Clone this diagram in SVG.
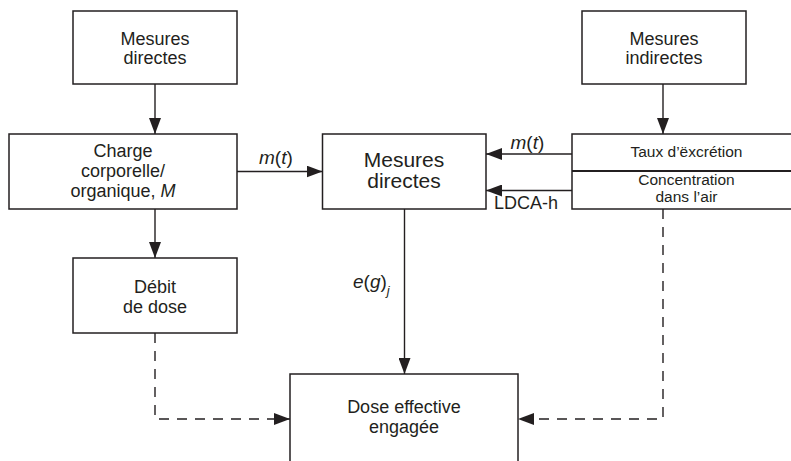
<svg xmlns="http://www.w3.org/2000/svg" width="791" height="461" viewBox="0 0 791 461">
  <style>
    .box { fill: #ffffff; stroke: #231f20; stroke-width: 1.5; }
    .lbl { font-family: "Liberation Sans", Arial, sans-serif; fill: #231f20; text-anchor: middle; }
    .t18 { font-size: 18px; }
    .t21 { font-size: 21px; }
    .t15 { font-size: 15.5px; }
    .edge { fill: none; stroke: #231f20; stroke-width: 1.4; }
    .dash { stroke-dasharray: 10 8; }
    .math { font-family: "Liberation Sans", Arial, sans-serif; fill: #231f20; font-size: 19px; }
  </style>
  <defs>
    <marker id="arrow" viewBox="0 0 16 12" refX="16" refY="6" markerWidth="16" markerHeight="12" markerUnits="userSpaceOnUse" orient="auto">
      <path d="M0,0 L16,6 L0,12 z" fill="#231f20"/>
    </marker>
  </defs>
  <rect width="791" height="461" fill="#ffffff"/>

  <g id="connectors">
    <line class="edge" x1="155" y1="84" x2="155" y2="134" marker-end="url(#arrow)"/>
    <line class="edge" x1="155" y1="209" x2="155" y2="258" marker-end="url(#arrow)"/>
    <line class="edge" x1="237" y1="171.5" x2="322.5" y2="171.5" marker-end="url(#arrow)"/>
    <line class="edge" x1="572" y1="154" x2="486" y2="154" marker-end="url(#arrow)"/>
    <line class="edge" x1="572" y1="190.5" x2="486" y2="190.5" marker-end="url(#arrow)"/>
    <line class="edge" x1="663" y1="84" x2="663" y2="134" marker-end="url(#arrow)"/>
    <line class="edge" x1="404.5" y1="209" x2="404.5" y2="374" marker-end="url(#arrow)"/>
    <polyline class="edge dash" points="155,333 155,419 290,419" marker-end="url(#arrow)"/>
    <polyline class="edge dash" points="663,209 663,419 518,419" marker-end="url(#arrow)"/>
    <!-- connector labels -->
    <text class="math" x="259" y="163.5"><tspan font-style="italic">m</tspan>(<tspan font-style="italic">t</tspan>)</text>
    <text class="math" x="510.5" y="148.5"><tspan font-style="italic">m</tspan>(<tspan font-style="italic">t</tspan>)</text>
    <text class="lbl t18" x="494" y="209" style="text-anchor:start">LDCA-h</text>
    <text class="math" x="353" y="288"><tspan font-style="italic">e</tspan>(<tspan font-style="italic">g</tspan>)<tspan font-style="italic" font-size="13" dy="7">j</tspan></text>
  </g>

  <g id="mesures-directes-source">
    <rect class="box" x="73" y="11" width="164" height="73"/>
    <text class="lbl t18" x="155" y="45">Mesures</text>
    <text class="lbl t18" x="155" y="64">directes</text>
  </g>

  <g id="mesures-indirectes">
    <rect class="box" x="582" y="11" width="164" height="73"/>
    <text class="lbl t18" x="664" y="45">Mesures</text>
    <text class="lbl t18" x="664" y="64">indirectes</text>
  </g>

  <g id="charge">
    <rect class="box" x="9" y="134" width="228" height="75"/>
    <text class="lbl t18" x="123" y="157">Charge</text>
    <text class="lbl t18" x="123" y="177">corporelle/</text>
    <text class="lbl t18" x="123" y="197">organique, <tspan font-style="italic">M</tspan></text>
  </g>

  <g id="mesures-directes">
    <rect class="box" x="322.5" y="134" width="163.5" height="75"/>
    <text class="lbl t21" x="404" y="166.5">Mesures</text>
    <text class="lbl t21" x="404" y="187.5">directes</text>
  </g>

  <g id="excretion-air">
    <rect class="box" x="572" y="134" width="229" height="75"/>
    <line x1="572" y1="171" x2="801" y2="171" stroke="#231f20" stroke-width="2"/>
    <text class="lbl t15" x="686.5" y="157">Taux d’ëxcrétion</text>
    <text class="lbl t15" x="686.5" y="185">Concentration</text>
    <text class="lbl t15" x="686.5" y="202">dans l’air</text>
  </g>

  <g id="debit">
    <rect class="box" x="73" y="258" width="164" height="75"/>
    <text class="lbl t18" x="155" y="292.5">Débit</text>
    <text class="lbl t18" x="155" y="313">de dose</text>
  </g>

  <g id="dose">
    <rect class="box" x="290" y="374" width="228" height="110"/>
    <text class="lbl t18" x="404" y="413">Dose effective</text>
    <text class="lbl t18" x="404" y="433">engagée</text>
  </g>
</svg>
